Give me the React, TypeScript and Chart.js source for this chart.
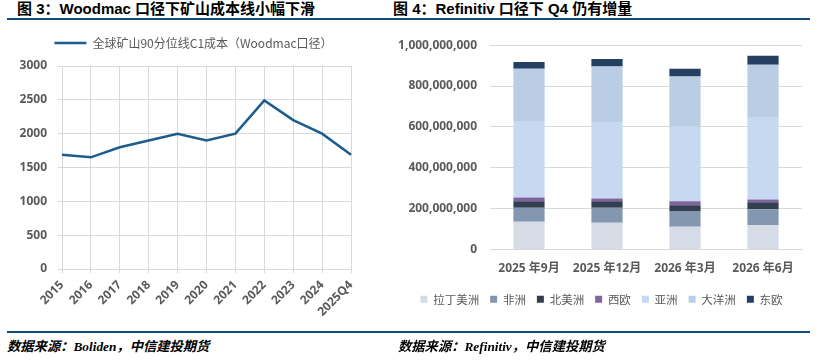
import React, { useEffect, useRef } from "react";
import { Chart, registerables } from "chart.js";

Chart.register(...registerables);

const SANS = '"Noto Sans", "Noto Sans CJK SC", sans-serif';
const CJK = '"Noto Sans CJK SC", "Noto Sans", sans-serif';
const TITLE = '"Liberation Sans", "Noto Sans CJK SC", sans-serif';
const SERIF = '"Liberation Serif", "DejaVu Serif", "Noto Sans CJK SC", serif';

// ---- Left chart data (Woodmac C1 cost, 90th percentile) ----
const years = ["2015", "2016", "2017", "2018", "2019", "2020", "2021", "2022", "2023", "2024", "2025Q4"];
const c1Cost = [1690, 1650, 1800, 1900, 2000, 1900, 2000, 2490, 2200, 2000, 1690];
const lineLabel = "全球矿山90分位线C1成本（Woodmac口径）";

// ---- Right chart data (Refinitiv, by region) ----
const periods = ["2025 年9月", "2025 年12月", "2026 年3月", "2026 年6月"];
const latinAmerica = [136e6, 131e6, 111e6, 120e6];
const africa = [68e6, 73e6, 77e6, 77e6];
const northAmerica = [32e6, 32e6, 29e6, 34e6];
const westEurope = [19e6, 14e6, 19e6, 14e6];
const asia = [370e6, 370e6, 365e6, 400e6];
const oceania = [260e6, 276e6, 246e6, 259e6];
const eastEurope = [33e6, 37e6, 38e6, 44e6];
const regionNames = ["拉丁美洲", "非洲", "北美洲", "西欧", "亚洲", "大洋洲", "东欧"];
const regionColors = ["#D6DCE5", "#8497B0", "#333F50", "#8064A2", "#C6D9F1", "#B9CDE5", "#243F61"];

const GRID = "#D9D9D9";
const TICK = "#595959";
const RULE = "#0E4C7C";

const legendExtra = (extra: number) => ({
  id: "legendExtra",
  beforeLayout(chart: any) {
    const lg = chart.legend;
    if (lg && !lg.__patched) {
      const orig = lg.fit.bind(lg);
      lg.fit = function () {
        orig();
        this.height += extra;
      };
      lg.__patched = true;
    }
  },
});

const spacerAxis = (w: number) => ({
  type: "linear",
  position: "right",
  display: true,
  grid: { display: false, drawTicks: false },
  border: { display: false },
  ticks: { display: false },
  afterFit: (s: any) => {
    s.width = w;
  },
});

function LineChart() {
  const ref = useRef<HTMLCanvasElement | null>(null);
  useEffect(() => {
    if (!ref.current) return;
    const chart = new Chart(ref.current, {
      type: "line",
      data: {
        labels: years,
        datasets: [
          {
            label: lineLabel,
            data: c1Cost,
            borderColor: "#1B5C8E",
            backgroundColor: "#1B5C8E",
            borderWidth: 2.5,
            pointRadius: 0,
            tension: 0,
          },
        ],
      },
      options: {
        animation: false,
        responsive: false,
        layout: { padding: { left: 0, right: 13, top: 2, bottom: 0 } },
        plugins: {
          legend: {
            position: "top",
            labels: {
              usePointStyle: true,
              pointStyle: "line",
              pointStyleWidth: 32,
              padding: 10,
              color: TICK,
              font: { family: CJK, size: 12 },
            },
          },
          tooltip: { enabled: false },
        },
        scales: {
          x: {
            grid: { color: GRID, tickLength: 4, drawTicks: true },
            border: { color: GRID },
            ticks: {
              autoSkip: false,
              maxRotation: 45,
              minRotation: 45,
              padding: 5,
              color: TICK,
              font: { family: SANS, size: 12, weight: "bold" },
            },
            afterFit: (s: any) => {
              s.height = 56;
            },
          },
          y: {
            min: 0,
            max: 3000,
            grid: { color: GRID, tickLength: 4 },
            border: { display: false },
            ticks: {
              stepSize: 500,
              padding: 11,
              color: TICK,
              font: { family: SANS, size: 12, weight: "bold" },
              callback: (v: any) => String(v),
            },
            afterFit: (s: any) => {
              s.width = 62;
            },
          },
          spacer: spacerAxis(36),
        },
      },
      plugins: [legendExtra(7)],
    } as any);
    return () => chart.destroy();
  }, []);
  return <canvas ref={ref} width={400} height={300} style={{ position: "absolute", left: 0, top: 25, width: 400, height: 300 }} />;
}

function BarChart() {
  const ref = useRef<HTMLCanvasElement | null>(null);
  useEffect(() => {
    if (!ref.current) return;
    const series = [latinAmerica, africa, northAmerica, westEurope, asia, oceania, eastEurope];
    const chart = new Chart(ref.current, {
      type: "bar",
      data: {
        labels: periods,
        datasets: series.map((d, i) => ({
          label: regionNames[i],
          data: d,
          backgroundColor: regionColors[i],
          borderWidth: 0,
          barPercentage: 0.5,
          categoryPercentage: 0.8,
        })),
      },
      options: {
        animation: false,
        responsive: false,
        layout: { padding: { left: 0, right: 0, top: 16, bottom: 10 } },
        plugins: {
          legend: {
            position: "bottom",
            align: "center",
            labels: {
              boxWidth: 7,
              boxHeight: 7,
              padding: 11,
              color: TICK,
              font: { family: CJK, size: 11.5 },
            },
          },
          tooltip: { enabled: false },
        },
        scales: {
          x: {
            stacked: true,
            grid: { display: false, drawTicks: false },
            border: { color: GRID },
            ticks: {
              padding: 12,
              color: TICK,
              font: { family: SANS, size: 12, weight: "bold" },
            },
            afterFit: (s: any) => {
              s.height = 33;
            },
          },
          y: {
            stacked: true,
            min: 0,
            max: 1e9,
            grid: { color: GRID, drawTicks: false },
            border: { display: false },
            ticks: {
              stepSize: 2e8,
              padding: 13,
              color: TICK,
              font: { family: SANS, size: 12, weight: "bold" },
              callback: (v: any) => Number(v).toLocaleString("en-US"),
            },
            afterFit: (s: any) => {
              s.width = 98;
            },
          },
          spacer: spacerAxis(9),
        },
      },
    } as any);
    return () => chart.destroy();
  }, []);
  return <canvas ref={ref} width={419} height={300} style={{ position: "absolute", left: 392, top: 25, width: 419, height: 300 }} />;
}

export default function App() {
  const titleStyle: React.CSSProperties = {
    position: "absolute",
    top: 0,
    height: 18,
    lineHeight: "18px",
    fontFamily: TITLE,
    fontWeight: 700,
    fontSize: 15,
    color: "#000",
    whiteSpace: "nowrap",
  };
  const srcStyle: React.CSSProperties = {
    position: "absolute",
    top: 338,
    height: 18,
    lineHeight: "18px",
    fontFamily: SERIF,
    fontStyle: "italic",
    fontWeight: 700,
    fontSize: 13.3,
    color: "#000",
    whiteSpace: "nowrap",
  };
  return (
    <div style={{ position: "absolute", left: 0, top: 0, width: 825, height: 361, background: "#fff", overflow: "hidden" }}>
      <div style={{ ...titleStyle, left: 17 }}>图 3：Woodmac 口径下矿山成本线小幅下滑</div>
      <div style={{ ...titleStyle, left: 393 }}>图 4：Refinitiv 口径下 Q4 仍有增量</div>
      <div style={{ position: "absolute", left: 7, top: 18, width: 803, height: 2, background: RULE }} />
      <LineChart />
      <BarChart />
      <div style={{ position: "absolute", left: 7, top: 331, width: 803, height: 2, background: RULE }} />
      <div style={{ ...srcStyle, left: 7 }}>数据来源：Boliden，中信建投期货</div>
      <div style={{ ...srcStyle, left: 398 }}>数据来源：Refinitiv，中信建投期货</div>
    </div>
  );
}
